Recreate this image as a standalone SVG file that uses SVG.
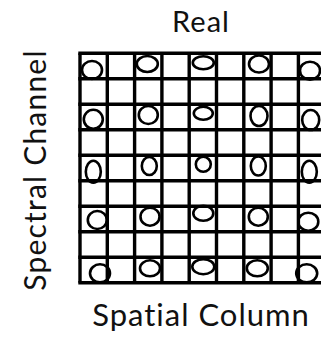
<svg xmlns="http://www.w3.org/2000/svg" width="321" height="340" viewBox="0 0 321 340">
<style>
.t{font-family:Lato,"Liberation Sans",sans-serif;fill:#111}
.c{fill:none;stroke:#000;stroke-width:2.6}
.g{stroke:#000;stroke-width:3.4;fill:none}
</style>
<rect width="321" height="340" fill="#fff"/>
<g id="circles">
<ellipse class="c" cx="92" cy="70" rx="10" ry="9"/>
<ellipse class="c" cx="147.3" cy="64" rx="10.5" ry="8"/>
<ellipse class="c" cx="203.3" cy="62.7" rx="10.5" ry="6.5"/>
<ellipse class="c" cx="259" cy="64" rx="10" ry="8.5"/>
<ellipse class="c" cx="310" cy="70.7" rx="10" ry="9"/>
<ellipse class="c" cx="93.3" cy="119.3" rx="9.5" ry="9.5"/>
<ellipse class="c" cx="148.3" cy="115" rx="9.5" ry="9"/>
<ellipse class="c" cx="203.3" cy="113.3" rx="9.5" ry="6.5"/>
<ellipse class="c" cx="259" cy="116" rx="8.5" ry="10"/>
<ellipse class="c" cx="310.7" cy="120" rx="8.5" ry="10"/>
<ellipse class="c" cx="93.3" cy="171.7" rx="7.5" ry="11"/>
<ellipse class="c" cx="149.3" cy="166" rx="7.5" ry="9"/>
<ellipse class="c" cx="203.3" cy="164.3" rx="7.5" ry="7.5"/>
<ellipse class="c" cx="258.3" cy="166" rx="7.5" ry="9.5"/>
<ellipse class="c" cx="309.3" cy="171.7" rx="7.5" ry="11"/>
<ellipse class="c" cx="97.3" cy="220" rx="9.5" ry="9"/>
<ellipse class="c" cx="150" cy="216.7" rx="9.5" ry="9"/>
<ellipse class="c" cx="203.3" cy="213.3" rx="10" ry="7.5"/>
<ellipse class="c" cx="258.3" cy="216.7" rx="9.5" ry="9"/>
<ellipse class="c" cx="308.3" cy="221.7" rx="10" ry="9"/>
<ellipse class="c" cx="100" cy="273.3" rx="10" ry="9"/>
<ellipse class="c" cx="150" cy="268.3" rx="10" ry="8"/>
<ellipse class="c" cx="203.3" cy="266.7" rx="11" ry="7.5"/>
<ellipse class="c" cx="257.3" cy="268.3" rx="10.5" ry="8"/>
<ellipse class="c" cx="306.7" cy="273.3" rx="10.5" ry="9"/>
</g>
<g id="grid" class="g">
<path d="M80 53.3V282.8M107.3 53.3V282.8M134.6 53.3V282.8M161.9 53.3V282.8M189.2 53.3V282.8M216.5 53.3V282.8M243.8 53.3V282.8M271.1 53.3V282.8M298.4 53.3V282.8"/>
<path d="M78.3 53.3H321M78.3 78.8H321M78.3 104.3H321M78.3 129.8H321M78.3 155.3H321M78.3 180.8H321M78.3 206.3H321M78.3 231.8H321M78.3 257.3H321M78.3 282.8H321"/>
</g>
<text class="t" x="201" y="32" font-size="29" letter-spacing="1" text-anchor="middle">Real</text>
<text class="t" x="201" y="326" font-size="31" letter-spacing="1" text-anchor="middle">Spatial Column</text>
<text class="t" transform="translate(46 170) rotate(-90)" font-size="30" letter-spacing="1.2" text-anchor="middle">Spectral Channel</text>
</svg>
